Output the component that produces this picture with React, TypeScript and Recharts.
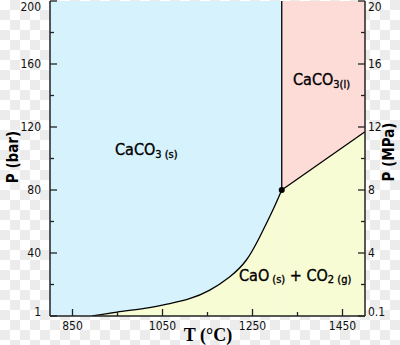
import React from "react";
import {
  Area,
  CartesianGrid,
  ComposedChart,
  ReferenceDot,
  ReferenceLine,
  XAxis,
  YAxis,
} from "recharts";

// phase boundary (T in °C, P in bar)
const temps = [894, 949, 1021, 1066, 1110, 1154, 1199, 1236, 1266, 1295, 1315, 1500];
const decompP = [0, 2.5, 5.3, 7.9, 11.0, 16.3, 24.8, 35.4, 50.2, 67.1, 80, null];
const meltP = [null, null, null, null, null, null, null, null, null, null, 80, 117];
const liquidTop = [null, null, null, null, null, null, null, null, null, null, 200, 200];

const tripleT = 1315;
const tripleP = 80;
const pMax = 200;

const xTicks = [850, 950, 1050, 1150, 1250, 1350, 1450];
const xLabels = [850, 1050, 1250, 1450];
const barTicks = [0, 20, 40, 60, 80, 100, 120, 140, 160, 180, 200];
const barLabels = [0, 40, 80, 120, 160, 200];
const mpaTicks = [0, 2, 4, 6, 8, 10, 12, 14, 16, 18, 20];
const mpaLabels = [0, 4, 8, 12, 16, 20];

const BLUE = "#d6f3fd";
const PINK = "#fddcd8";
const YELLOW = "#f7fcd5";
const FRAME = "#222";
const TICK_FONT = "'DejaVu Sans Condensed', 'DejaVu Sans', sans-serif";

const rows = temps.map((t, i) => ({
  T: t,
  decomp: decompP[i],
  melt: meltP[i],
  liquid: liquidTop[i],
}));

function BottomTick(props: any) {
  const { x, y, payload } = props;
  const major = xLabels.includes(payload.value);
  return (
    <g>
      <line x1={x} y1={y} x2={x} y2={y - (major ? 7 : 4)} stroke={FRAME} strokeWidth={1.3} />
      {major && (
        <text x={x} y={y + 10} dy="0.35em" textAnchor="middle" fontSize={12} fill="#111" fontFamily={TICK_FONT}>
          {payload.value}
        </text>
      )}
    </g>
  );
}

function TopTick(props: any) {
  const { x, y, payload } = props;
  const major = xLabels.includes(payload.value);
  return <line x1={x} y1={y} x2={x} y2={y + (major ? 7 : 4)} stroke={FRAME} strokeWidth={1.3} />;
}

function LeftTick(props: any) {
  const { x, y, payload } = props;
  const v = payload.value;
  const major = barLabels.includes(v);
  const dy = v === 0 ? -4 : v === pMax ? 6 : 0;
  return (
    <g>
      <line x1={x} y1={y} x2={x + (major ? 7 : 4)} y2={y} stroke={FRAME} strokeWidth={1.3} />
      {major && (
        <text x={x - 9} y={y + dy} dy="0.35em" textAnchor="end" fontSize={12} fill="#111" fontFamily={TICK_FONT}>
          {v === 0 ? "1" : v}
        </text>
      )}
    </g>
  );
}

function RightTick(props: any) {
  const { x, y, payload } = props;
  const v = payload.value;
  const major = mpaLabels.includes(v);
  const dy = v === 0 ? -4 : v === 20 ? 6 : 0;
  return (
    <g>
      <line x1={x} y1={y} x2={x - (major ? 7 : 4)} y2={y} stroke={FRAME} strokeWidth={1.3} />
      {major && (
        <text x={x + 3} y={y + dy} dy="0.35em" textAnchor="start" fontSize={12} fill="#111" fontFamily={TICK_FONT}>
          {v === 0 ? "0.1" : v}
        </text>
      )}
    </g>
  );
}

const labelFont = "'DejaVu Sans Condensed', 'DejaVu Sans', sans-serif";

export default function App() {
  return (
    <div
      style={{
        position: "absolute",
        left: 0,
        top: 0,
        width: 400,
        height: 345,
        background: "repeating-conic-gradient(#ececec 0% 25%, #ffffff 0% 50%) 0 0 / 20px 20px",
      }}
    >
      <ComposedChart width={400} height={345} data={rows} margin={{ top: 1, right: 0, bottom: 0, left: 0 }}>
        <CartesianGrid horizontal={false} vertical={false} fill={BLUE} xAxisId="b" yAxisId="l" />
        <Area
          xAxisId="b"
          yAxisId="l"
          type="linear"
          dataKey="liquid"
          fill={PINK}
          fillOpacity={1}
          stroke="none"
          dot={false}
          activeDot={false}
          isAnimationActive={false}
        />
        <Area
          xAxisId="b"
          yAxisId="l"
          type="natural"
          dataKey="decomp"
          fill={YELLOW}
          fillOpacity={1}
          stroke="#000"
          strokeWidth={1.3}
          dot={false}
          activeDot={false}
          isAnimationActive={false}
        />
        <Area
          xAxisId="b"
          yAxisId="l"
          type="linear"
          dataKey="melt"
          fill={YELLOW}
          fillOpacity={1}
          stroke="#000"
          strokeWidth={1.3}
          dot={false}
          activeDot={false}
          isAnimationActive={false}
        />
        <ReferenceLine
          xAxisId="b"
          yAxisId="l"
          segment={[
            { x: tripleT, y: tripleP },
            { x: tripleT, y: pMax },
          ]}
          stroke="#000"
          strokeWidth={1.3}
        />
        <ReferenceDot xAxisId="b" yAxisId="l" x={tripleT} y={tripleP} r={3} fill="#000" stroke="none" />
        <XAxis
          xAxisId="b"
          dataKey="T"
          type="number"
          domain={[800, 1500]}
          ticks={xTicks}
          interval={0}
          height={29}
          tickSize={0}
          tickMargin={0}
          tickLine={false}
          axisLine={{ stroke: FRAME, strokeWidth: 1.5 }}
          tick={BottomTick}
          allowDataOverflow
        />
        <XAxis
          xAxisId="t"
          orientation="top"
          dataKey="T"
          type="number"
          domain={[800, 1500]}
          ticks={xTicks}
          interval={0}
          height={0}
          tickSize={0}
          tickMargin={0}
          tickLine={false}
          axisLine={{ stroke: FRAME, strokeWidth: 1.5 }}
          tick={TopTick}
          allowDataOverflow
        />
        <YAxis
          yAxisId="l"
          type="number"
          domain={[0, 200]}
          ticks={barTicks}
          interval={0}
          width={50}
          tickSize={0}
          tickMargin={0}
          tickLine={false}
          axisLine={{ stroke: FRAME, strokeWidth: 1.5 }}
          tick={LeftTick}
          allowDataOverflow
        />
        <YAxis
          yAxisId="r"
          orientation="right"
          type="number"
          domain={[0, 20]}
          ticks={mpaTicks}
          interval={0}
          width={35}
          tickSize={0}
          tickMargin={0}
          tickLine={false}
          axisLine={{ stroke: FRAME, strokeWidth: 1.5 }}
          tick={RightTick}
          allowDataOverflow
        />
      </ComposedChart>
      <svg
        width={400}
        height={345}
        style={{ position: "absolute", left: 0, top: 0, pointerEvents: "none" }}
      >
        <g fill="#000" stroke="#000" strokeWidth={0.35} fontFamily={labelFont}>
          <text x={115} y={155} fontSize={16}>
            CaCO
            <tspan fontSize={11} dy={3}>3 (s)</tspan>
          </text>
          <text x={293} y={85} fontSize={16}>
            CaCO
            <tspan fontSize={11} dy={3}>3(l)</tspan>
          </text>
          <text x={239} y={281} fontSize={16}>
            CaO
            <tspan fontSize={11} dy={2}> (s)</tspan>
            <tspan fontSize={16} dy={-2}> + CO</tspan>
            <tspan fontSize={11} dy={2}>2 (g)</tspan>
          </text>
        </g>
        <text
          x={13}
          y={157}
          transform="rotate(-90 13 157)"
          textAnchor="middle"
          dy="0.35em"
          fontSize={15}
          fontWeight="bold"
          fontFamily={labelFont}
          fill="#000"
        >
          P (bar)
        </text>
        <text
          x={389}
          y={152}
          transform="rotate(-90 389 152)"
          textAnchor="middle"
          dy="0.35em"
          fontSize={15}
          fontWeight="bold"
          fontFamily={labelFont}
          fill="#000"
        >
          P (MPa)
        </text>
        <text
          x={208}
          y={341}
          textAnchor="middle"
          fontSize={18}
          fontWeight="bold"
          fontFamily="'Liberation Serif', serif"
          fill="#000"
        >
          T (°C)
        </text>
      </svg>
    </div>
  );
}
